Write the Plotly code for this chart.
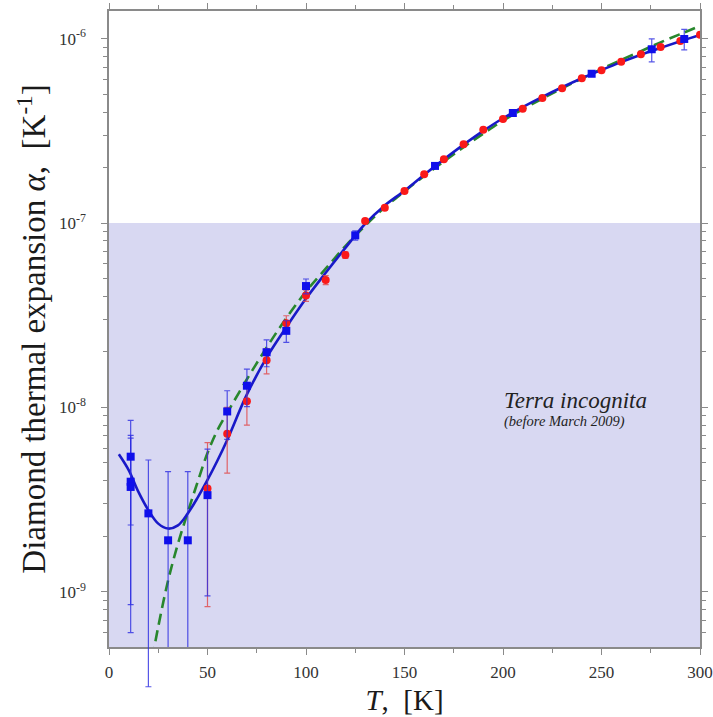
import plotly.graph_objects as go

# ---------------- data ----------------
# red circles: T [K], alpha [1/K], symmetric error
red_T = [50, 60, 70, 80, 90, 100, 110, 120, 130, 140, 150, 160, 170, 180, 190,
         200, 210, 220, 230, 240, 250, 260, 270, 280, 290, 300]
red_alpha = [3.63e-9, 7.2e-9, 1.08e-8, 1.8e-8, 2.86e-8, 4.04e-8, 4.91e-8, 6.7e-8,
             1.025e-7, 1.21e-7, 1.49e-7, 1.84e-7, 2.22e-7, 2.67e-7, 3.21e-7,
             3.66e-7, 4.17e-7, 4.76e-7, 5.38e-7, 6.1e-7, 6.73e-7, 7.5e-7, 8.22e-7,
             9.0e-7, 9.7e-7, 1.05e-6]
red_err = [2.8e-9] * len(red_T)

# blue squares: T [K], alpha [1/K], errors (+ / -)
blue_T = [11, 11, 11, 20, 30, 40, 50, 60, 70, 80, 90, 100, 125, 165.5, 205, 245, 275.5, 292]
blue_alpha = [5.4e-9, 3.95e-9, 3.7e-9, 2.66e-9, 1.9e-9, 1.9e-9, 3.34e-9, 9.5e-9,
              1.31e-8, 1.99e-8, 2.6e-8, 4.55e-8, 8.57e-8, 2.04e-7, 3.95e-7,
              6.45e-7, 8.76e-7, 9.96e-7]
blue_err_plus = [3.1e-9, 3.1e-9, 3.1e-9, 2.52e-9, 2.58e-9, 2.58e-9, 2.6e-9, 2.8e-9,
                 3.0e-9, 3.3e-9, 3.5e-9, 4.2e-9, 5e-9, 6e-9, 8e-9, 1e-8, 1.2e-7, 1.28e-7]
blue_err_minus = [3.1e-9, 3.1e-9, 3.1e-9, 2.355e-9, 2.6e-9, 2.6e-9, 2.39e-9, 2.8e-9,
                  3.0e-9, 3.3e-9, 3.5e-9, 4.2e-9, 5e-9, 6e-9, 8e-9, 1e-8, 1.28e-7, 1.27e-7]
# blue error bars that run past the bottom of the frame
blue_unclipped_T = [20]

# blue solid fit curve
fit_T = [5, 10, 15, 20, 25, 30, 35, 40, 45, 50, 55, 60, 70, 80, 90, 100, 110, 120,
         130, 140, 150, 160, 170, 180, 190, 200, 210, 220, 230, 240, 250, 260, 270,
         280, 290, 300]
fit_alpha = [5.57e-9, 4.57e-9, 3.47e-9, 2.77e-9, 2.34e-9, 2.20e-9, 2.29e-9, 2.66e-9,
             3.24e-9, 4.04e-9, 5.13e-9, 6.65e-9, 1.175e-8, 1.86e-8, 2.72e-8, 3.89e-8,
             5.37e-8, 7.33e-8, 9.89e-8, 1.245e-7, 1.496e-7, 1.828e-7, 2.213e-7,
             2.66e-7, 3.16e-7, 3.70e-7, 4.25e-7, 4.83e-7, 5.45e-7, 6.10e-7, 6.76e-7,
             7.46e-7, 8.18e-7, 8.91e-7, 9.68e-7, 1.047e-6]

# green dashed model curve
model_T = [22, 25, 30, 35, 40, 45, 50, 55, 60, 70, 80, 90, 100, 110, 120, 130, 140,
           150, 160, 170, 180, 190, 200, 210, 220, 230, 240, 250, 260, 270, 280, 290, 300]
model_alpha = [4.37e-10, 6.46e-10, 1.15e-9, 1.82e-9, 2.70e-9, 3.94e-9, 5.65e-9, 7.50e-9,
               9.33e-9, 1.42e-8, 2.11e-8, 3.05e-8, 4.25e-8, 5.65e-8, 7.50e-8, 9.66e-8,
               1.216e-7, 1.486e-7, 1.80e-7, 2.16e-7, 2.58e-7, 3.05e-7, 3.59e-7, 4.14e-7,
               4.73e-7, 5.37e-7, 6.08e-7, 6.84e-7, 7.67e-7, 8.55e-7, 9.55e-7, 1.059e-6,
               1.172e-6]

# shaded "terra incognita" band upper limit
terra_limit = 1e-7

y_major = [1e-9, 1e-8, 1e-7, 1e-6]
y_major_text = ['10<sup>-9</sup>', '10<sup>-8</sup>', '10<sup>-7</sup>', '10<sup>-6</sup>']
x_major = [0, 50, 100, 150, 200, 250, 300]
x_range = [0, 300]
y_range = [-9.30, -5.85]          # log10 of the frame limits

# ---------------- geometry ----------------
W, H = 713, 717
M_L, M_R, M_T, M_B = 109, 13, 11, 25      # outer plotting box (incl. overflow strip)
FRAME_BOTTOM_PX = 647                     # bottom edge of the visible frame
plot_h = H - M_T - M_B
dom0 = ((H - M_B) - FRAME_BOTTOM_PX) / plot_h
frame_h = plot_h * (1 - dom0)
dec_per_px = (y_range[1] - y_range[0]) / frame_h
y2_range = [y_range[0] - dom0 * plot_h * dec_per_px, y_range[1]]

# ---------------- figure ----------------
FONT = 'Liberation Serif'
AX = '#8a8a8a'
BLUE_PT = 'rgb(15,15,235)'
BLUE_LN = 'rgb(25,25,200)'
BLUE_ERR = 'rgba(45,45,225,0.8)'
RED_PT = 'rgb(250,25,25)'
RED_ERR = 'rgba(225,70,70,0.8)'
GREEN = 'rgb(40,135,45)'

fig = go.Figure()

fig.add_shape(type='rect', xref='x', yref='y', x0=x_range[0], x1=x_range[1], y0=1e-12,
              y1=terra_limit, fillcolor='rgb(216,216,242)', line_width=0, layer='below')

fig.add_trace(go.Scatter(x=model_T, y=model_alpha, mode='lines',
                         line=dict(color=GREEN, width=2.6, dash='11px,6px', shape='spline'),
                         hoverinfo='skip'))
fig.add_trace(go.Scatter(x=fit_T, y=fit_alpha, mode='lines',
                         line=dict(color=BLUE_LN, width=2.6, shape='spline'),
                         hoverinfo='skip'))

fig.add_trace(go.Scatter(x=red_T, y=red_alpha, mode='markers',
                         marker=dict(symbol='circle', size=8, color=RED_PT),
                         error_y=dict(type='data', array=red_err, color=RED_ERR,
                                      thickness=1.2, width=3)))

idx_c = [i for i, t in enumerate(blue_T) if t not in blue_unclipped_T]
idx_u = [i for i, t in enumerate(blue_T) if t in blue_unclipped_T]
for idx, xax, yax in ((idx_c, 'x', 'y'), (idx_u, 'x2', 'y2')):
    fig.add_trace(go.Scatter(
        x=[blue_T[i] for i in idx], y=[blue_alpha[i] for i in idx], mode='markers',
        xaxis=xax, yaxis=yax,
        marker=dict(symbol='square', size=8, color=BLUE_PT),
        error_y=dict(type='data', symmetric=False,
                     array=[blue_err_plus[i] for i in idx],
                     arrayminus=[blue_err_minus[i] for i in idx],
                     color=BLUE_ERR, thickness=1.2, width=3)))

minor_y = [m * d for d in (1e-10, 1e-9, 1e-8, 1e-7, 1e-6) for m in range(2, 10)]

fig.update_layout(
    width=W, height=H,
    margin=dict(l=M_L, r=M_R, t=M_T, b=M_B),
    plot_bgcolor='rgba(0,0,0,0)', paper_bgcolor='white',
    showlegend=False,
    font=dict(family=FONT, color='#333'),
    xaxis=dict(
        range=x_range, tickmode='array', tickvals=x_major, anchor='y',
        ticks='outside', ticklen=6, tickwidth=1.2, tickcolor=AX,
        showline=True, linecolor=AX, linewidth=1.5, mirror='allticks',
        showgrid=False, zeroline=False, automargin=False,
        minor=dict(tickmode='linear', tick0=0, dtick=25, ticks='outside', ticklen=4,
                   tickwidth=1.2, tickcolor=AX, showgrid=False),
        tickfont=dict(family=FONT, size=17, color='#333'),
        ticklabelstandoff=3,
        title=dict(text='<i>T</i>,  [K]', font=dict(family=FONT, size=29, color='#1a1a1a'),
                   standoff=9),
    ),
    xaxis2=dict(range=x_range, anchor='y2', visible=False, showgrid=False,
                zeroline=False, automargin=False),
    yaxis=dict(
        type='log', range=y_range, tickmode='array', tickvals=y_major,
        ticktext=y_major_text, domain=[dom0, 1], anchor='x',
        ticks='outside', ticklen=6, tickwidth=1.2, tickcolor=AX,
        showline=True, linecolor=AX, linewidth=1.5, mirror='allticks',
        showgrid=False, zeroline=False, automargin=False,
        minor=dict(tickmode='array', tickvals=minor_y, ticks='outside', ticklen=4,
                   tickwidth=1.2, tickcolor=AX, showgrid=False),
        tickfont=dict(family=FONT, size=17, color='#333'),
        ticklabelstandoff=12,
        title=dict(text='Diamond thermal expansion <i>α</i>,  [K<sup>-1</sup>]',
                   font=dict(family=FONT, size=33, color='#1a1a1a'), standoff=3),
    ),
    yaxis2=dict(
        type='log', range=y2_range, domain=[0, 1], anchor='x2', visible=False,
        showgrid=False, zeroline=False, automargin=False,
    ),
    annotations=[
        dict(text='<i>Terra incognita</i>', xref='paper', yref='paper',
             x=0.665, y=1 - (400 - M_T) / plot_h, xanchor='left', yanchor='middle',
             showarrow=False, font=dict(family=FONT, size=23, color='#222')),
        dict(text='<i>(before March 2009)</i>', xref='paper', yref='paper',
             x=0.665, y=1 - (421 - M_T) / plot_h, xanchor='left', yanchor='middle',
             showarrow=False, font=dict(family=FONT, size=14.5, color='#222')),
    ],
)

fig.write_html('out.html')
